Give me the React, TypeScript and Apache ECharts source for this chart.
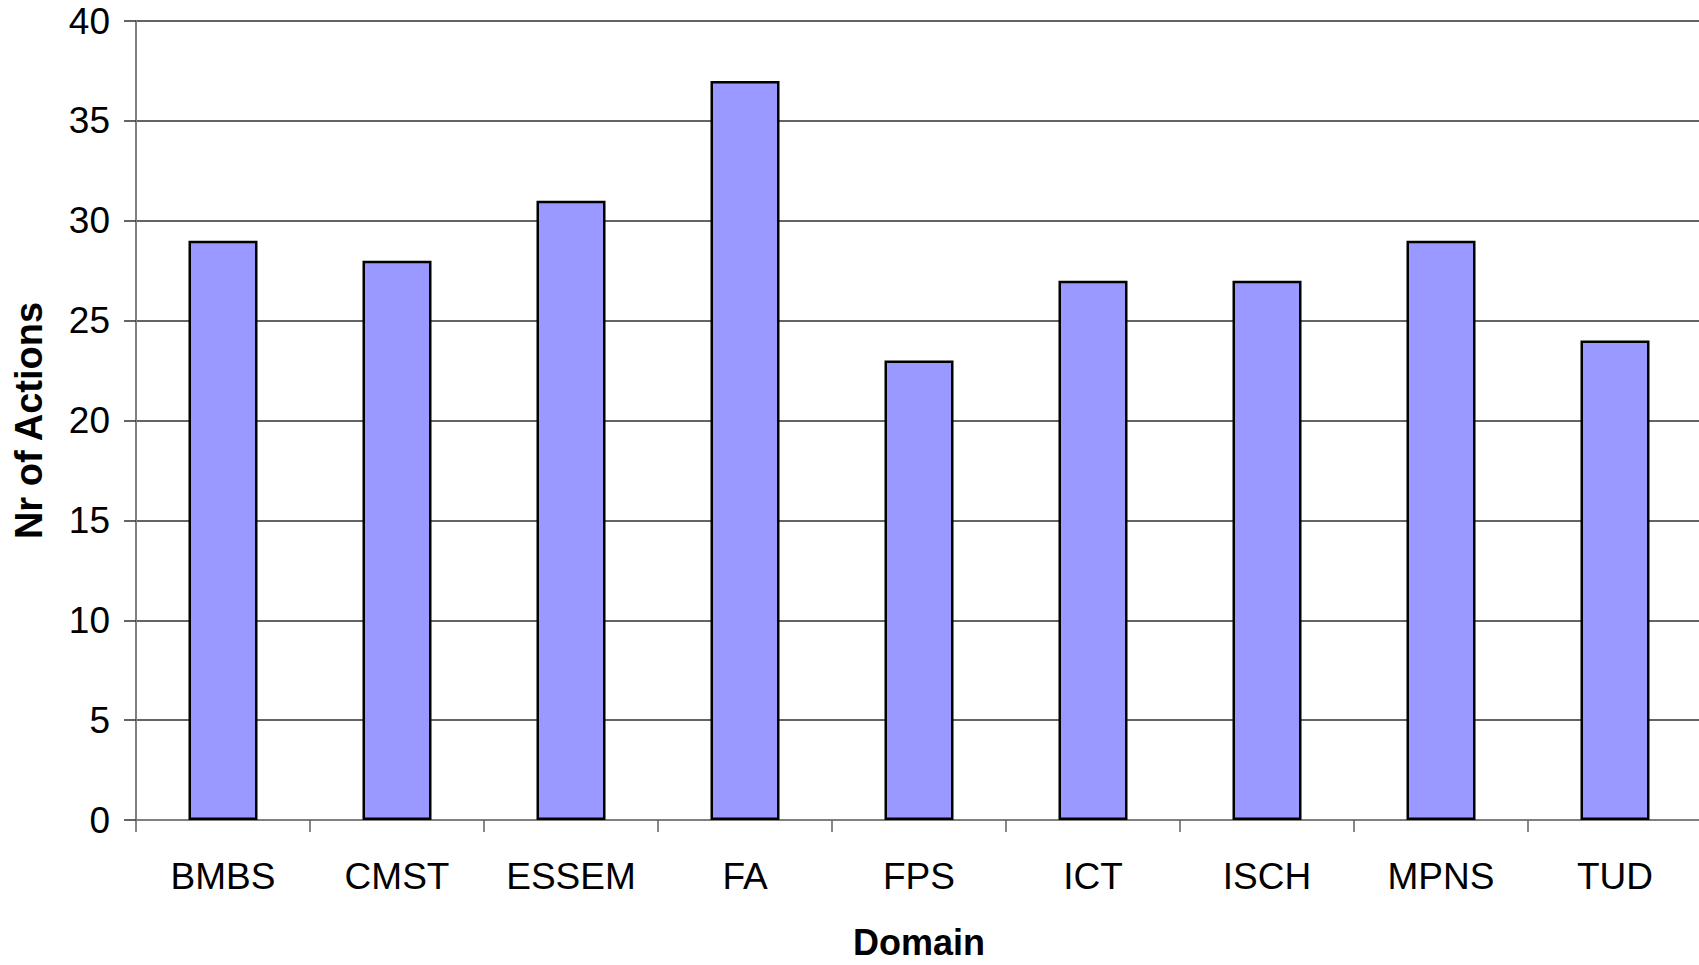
import React, { useEffect, useRef } from "react";
import * as echarts from "echarts";

const categories = ["BMBS", "CMST", "ESSEM", "FA", "FPS", "ICT", "ISCH", "MPNS", "TUD"];
const actions = [29, 28, 31, 37, 23, 27, 27, 29, 24];
const yTicks = { min: 0, max: 40, interval: 5 };
const xTitle = "Domain";
const yTitle = "Nr of Actions";

const FONT = "'Liberation Sans', Arial, sans-serif";

export default function App() {
  const ref = useRef<HTMLDivElement>(null);
  useEffect(() => {
    if (!ref.current) return;
    const chart = echarts.init(ref.current, null, { renderer: "svg" });
    chart.setOption({
      animation: false,
      backgroundColor: "#ffffff",
      grid: {
        left: 136,
        top: 21,
        right: -3,
        bottom: 145,
        containLabel: false,
        outerBoundsMode: "none",
      },
      xAxis: {
        type: "category",
        data: categories,
        name: xTitle,
        nameLocation: "middle",
        nameGap: 104,
        nameTextStyle: {
          fontFamily: FONT,
          fontSize: 36,
          fontWeight: "bold",
          color: "#000",
          lineHeight: 36,
        },
        axisLine: { show: true, lineStyle: { color: "#808080", width: 2 } },
        axisTick: { show: true, length: 12, alignWithLabel: false, lineStyle: { color: "#606060", width: 1.5 } },
        axisLabel: { fontFamily: FONT, fontSize: 37, color: "#000", margin: 38, interval: 0 },
        splitLine: { show: false },
      },
      yAxis: {
        type: "value",
        min: yTicks.min,
        max: yTicks.max,
        interval: yTicks.interval,
        name: yTitle,
        nameLocation: "middle",
        nameGap: 88,
        nameTextStyle: { fontFamily: FONT, fontSize: 38, fontWeight: "bold", color: "#000" },
        axisLine: { show: true, lineStyle: { color: "#808080", width: 2 } },
        axisTick: { show: true, length: 12, lineStyle: { color: "#303030", width: 1.5 } },
        axisLabel: { fontFamily: FONT, fontSize: 37, color: "#000", margin: 26 },
        splitLine: { show: true, lineStyle: { color: "#303030", width: 1.5 } },
      },
      series: [
        {
          type: "bar",
          data: actions,
          barWidth: 69,
          itemStyle: { color: "#9999FF", borderColor: "#000000", borderWidth: 2.5 },
        },
      ],
    });
    return () => chart.dispose();
  }, []);
  return (
    <div
      ref={ref}
      style={{ position: "absolute", left: 0, top: 0, width: 1699, height: 965 }}
    />
  );
}
